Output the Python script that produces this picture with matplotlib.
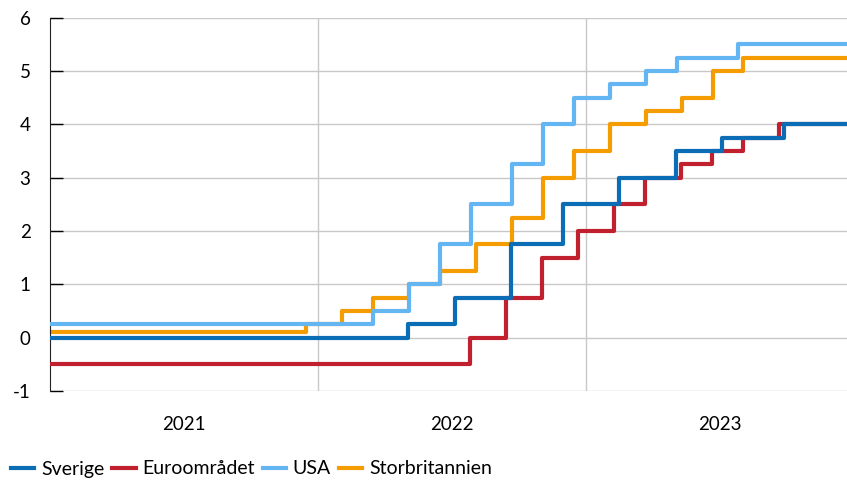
import matplotlib.pyplot as plt
import numpy as np
from datetime import datetime as dt

plt.rcParams['font.family'] = ['Lato', 'DejaVu Sans']
plt.rcParams['axes.unicode_minus'] = False

start = "2021-01-01"
end = "2023-12-22"

# policy rate changes: (date, new rate)
se_dates = [start, "2022-05-04", "2022-07-06", "2022-09-21", "2022-11-30", "2023-02-15",
            "2023-05-03", "2023-07-05", "2023-09-27", end]
se_rates = [0.0, 0.25, 0.75, 1.75, 2.5, 3.0, 3.5, 3.75, 4.0, 4.0]

ea_dates = [start, "2022-07-27", "2022-09-14", "2022-11-02", "2022-12-21", "2023-02-08",
            "2023-03-22", "2023-05-10", "2023-06-21", "2023-08-02", "2023-09-20", end]
ea_rates = [-0.5, 0.0, 0.75, 1.5, 2.0, 2.5, 3.0, 3.25, 3.5, 3.75, 4.0, 4.0]

us_dates = [start, "2022-03-17", "2022-05-05", "2022-06-16", "2022-07-28", "2022-09-22",
            "2022-11-03", "2022-12-15", "2023-02-02", "2023-03-23", "2023-05-04", "2023-07-27", end]
us_rates = [0.25, 0.5, 1.0, 1.75, 2.5, 3.25, 4.0, 4.5, 4.75, 5.0, 5.25, 5.5, 5.5]

uk_dates = [start, "2021-12-16", "2022-02-03", "2022-03-17", "2022-05-05", "2022-06-16",
            "2022-08-04", "2022-09-22", "2022-11-03", "2022-12-15", "2023-02-02", "2023-03-23",
            "2023-05-11", "2023-06-22", "2023-08-03", end]
uk_rates = [0.1, 0.25, 0.5, 0.75, 1.0, 1.25, 1.75, 2.25, 3.0, 3.5, 4.0, 4.25, 4.5, 5.0, 5.25, 5.25]

series = [
    ("Sverige", se_dates, se_rates, "#0b6db5", 5),
    ("Euroområdet", ea_dates, ea_rates, "#c1202f", 4),
    ("USA", us_dates, us_rates, "#63b6f1", 3),
    ("Storbritannien", uk_dates, uk_rates, "#f59c00", 2),
]

fig = plt.figure(figsize=(8.47, 4.82), dpi=100)
ax = fig.add_axes([50 / 847, 1 - 391 / 482, 1 - 50 / 847, (391 - 17.7) / 482])

for name, d, r, c, z in series:
    x = [dt.strptime(s, "%Y-%m-%d") for s in d]
    ax.plot(x, r, drawstyle="steps-post", color=c, lw=3.0, label=name, zorder=z,
            solid_joinstyle="round")

ax.set_ylim(-1, 6)
ax.set_yticks(range(-1, 7))
ax.set_xlim(dt(2021, 1, 1), dt(2023, 12, 22))

years = [2021, 2022, 2023]
ax.set_xticks([dt(y, 1, 1) for y in years[1:]])
ax.set_xticklabels([])
ax.set_xticks([dt(y, 7, 2) for y in years], minor=True)
ax.set_xticklabels([str(y) for y in years], minor=True)
ax.tick_params(axis="x", which="both", length=0, labelsize=13.5, pad=18)
ax.tick_params(axis="y", direction="in", length=9, width=1, labelsize=13.5, pad=14)

ax.grid(True, axis="both", which="major", color="#c8c8c8", lw=1)
for s in ["top", "right", "bottom"]:
    ax.spines[s].set_visible(False)
ax.spines["left"].set_color("#222222")
ax.set_axisbelow(True)

fig.legend(loc="center left", bbox_to_anchor=(0.013, 13 / 482), ncol=4, frameon=False,
           fontsize=14, handlelength=1.2, handletextpad=0.35, columnspacing=0.4,
           borderaxespad=0, borderpad=0.0)

fig.savefig("out.png", dpi=100)
